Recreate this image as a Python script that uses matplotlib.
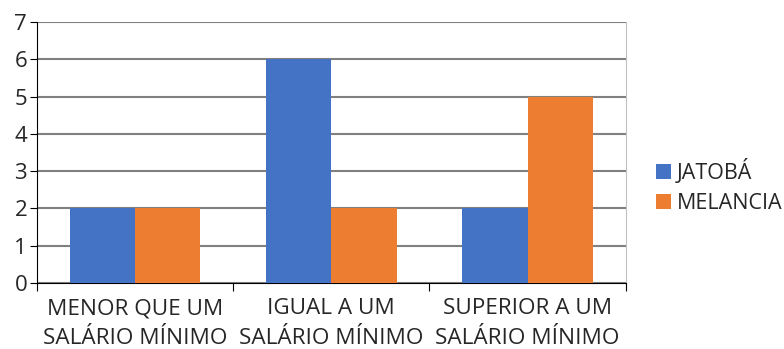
import matplotlib.pyplot as plt
import numpy as np

plt.rcParams['font.family'] = ['Open Sans', 'DejaVu Sans']

categories = ['MENOR QUE UM\nSALÁRIO MÍNIMO', 'IGUAL A UM\nSALÁRIO MÍNIMO', 'SUPERIOR A UM\nSALÁRIO MÍNIMO']
jatoba = [2, 6, 2]
melancia = [2, 2, 5]
series_names = ['JATOBÁ', 'MELANCIA']

fig = plt.figure(figsize=(7.84, 3.49), dpi=100)
ax = fig.add_axes([0.047, 0.189, 0.751, 0.748])

x = np.arange(len(categories))
w = 0.333
ax.bar(x - w / 2, jatoba, w, color='#4472C4', label=series_names[0], zorder=3)
ax.bar(x + w / 2, melancia, w, color='#ED7D31', label=series_names[1], zorder=3)

ax.set_xlim(-0.5, 2.5)
ax.set_ylim(0, 7)
ax.set_yticks(range(8))
ax.yaxis.grid(True, color='#808080', linewidth=1.5, zorder=0)
ax.set_axisbelow(True)

ax.set_xticks([-0.5, 0.5, 1.5, 2.5])
ax.set_xticklabels([])
ax.set_xticks(x, minor=True)
ax.set_xticklabels(categories, minor=True, fontsize=16.2, color='#262626', linespacing=1.55)
ax.tick_params(axis='x', which='minor', length=0, pad=11)
ax.tick_params(axis='x', which='major', length=6, color='black')
ax.tick_params(axis='y', length=5, labelsize=16, colors='black', labelcolor='#262626', pad=2)

ax.spines['top'].set_visible(False)
ax.spines['right'].set_color('#c0c0c0')
ax.spines['left'].set_color('black')
ax.spines['bottom'].set_color('black')

fig.legend(loc='center left', bbox_to_anchor=(0.826, 0.465), frameon=False,
           fontsize=15.5, handlelength=0.7, handleheight=0.7, handletextpad=0.25,
           labelspacing=0.4, borderaxespad=0, labelcolor='#262626')

fig.savefig('out.png', dpi=100)
